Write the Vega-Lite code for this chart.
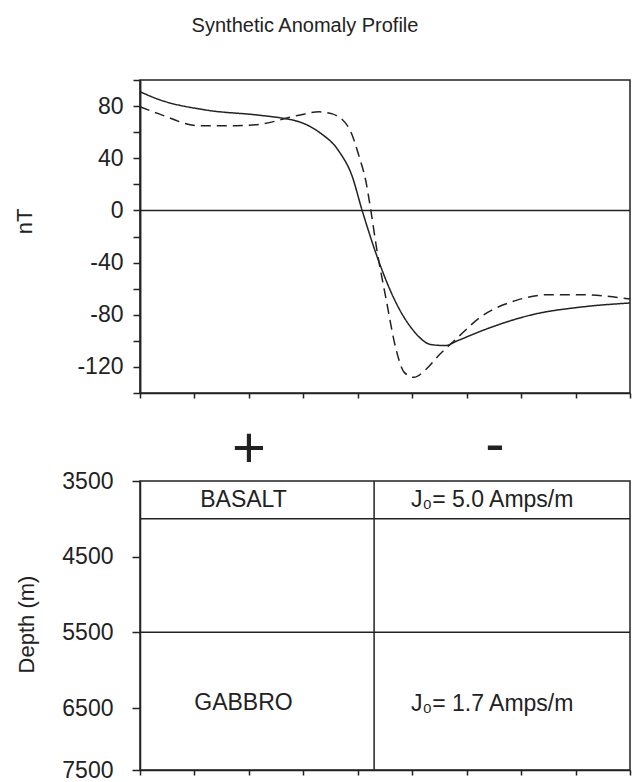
{
  "$schema": "https://vega.github.io/schema/vega-lite/v6.json",
  "title": {"text": "Synthetic Anomaly Profile", "fontSize": 20, "font": "Liberation Sans", "fontWeight": "normal", "anchor": "middle", "dx": -18, "offset": 43, "color": "#222"},
  "padding": {"left": 12, "top": 15, "right": 5, "bottom": 3},
  "background": "white",
  "bounds": "flush",
  "spacing": 88,
  "config": {
    "font": "Liberation Sans",
    "view": {"stroke": "#222", "strokeWidth": 1.5},
    "axis": {"grid": false, "labelOverlap": false, "domainColor": "#222", "domainWidth": 1.5, "tickColor": "#222", "tickWidth": 1.5, "labelFont": "Liberation Sans", "labelColor": "#222", "titleFont": "Liberation Sans", "titleColor": "#222", "titleFontWeight": "normal"}
  },
  "vconcat": [
    {
      "width": 490,
      "height": 313,
      "resolve": {"axis": {"y": "independent"}},
      "data": {"values": [
        {"x": 0.0, "nT": 91, "model": "solid"},
        {"x": 0.35, "nT": 85, "model": "solid"},
        {"x": 1.21, "nT": 77, "model": "solid"},
        {"x": 2.19, "nT": 73, "model": "solid"},
        {"x": 2.65, "nT": 70.5, "model": "solid"},
        {"x": 2.92, "nT": 68, "model": "solid"},
        {"x": 3.29, "nT": 60, "model": "solid"},
        {"x": 3.66, "nT": 45, "model": "solid"},
        {"x": 3.89, "nT": 27, "model": "solid"},
        {"x": 4.08, "nT": 0, "model": "solid"},
        {"x": 4.39, "nT": -39.5, "model": "solid"},
        {"x": 4.70, "nT": -70.6, "model": "solid"},
        {"x": 5.0, "nT": -91, "model": "solid"},
        {"x": 5.36, "nT": -103, "model": "solid"},
        {"x": 5.62, "nT": -103.6, "model": "solid"},
        {"x": 5.80, "nT": -100.5, "model": "solid"},
        {"x": 6.36, "nT": -91, "model": "solid"},
        {"x": 7.20, "nT": -80, "model": "solid"},
        {"x": 8.12, "nT": -74, "model": "solid"},
        {"x": 9.0, "nT": -71, "model": "solid"},
        {"x": 0.0, "nT": 79.5, "model": "dashed"},
        {"x": 0.35, "nT": 74, "model": "dashed"},
        {"x": 1.08, "nT": 65, "model": "dashed"},
        {"x": 1.76, "nT": 65, "model": "dashed"},
        {"x": 2.19, "nT": 66, "model": "dashed"},
        {"x": 2.92, "nT": 73, "model": "dashed"},
        {"x": 3.29, "nT": 75.6, "model": "dashed"},
        {"x": 3.53, "nT": 74, "model": "dashed"},
        {"x": 3.84, "nT": 63, "model": "dashed"},
        {"x": 4.02, "nT": 42, "model": "dashed"},
        {"x": 4.15, "nT": 22, "model": "dashed"},
        {"x": 4.24, "nT": 0, "model": "dashed"},
        {"x": 4.35, "nT": -30, "model": "dashed"},
        {"x": 4.52, "nT": -68, "model": "dashed"},
        {"x": 4.70, "nT": -106, "model": "dashed"},
        {"x": 4.85, "nT": -124, "model": "dashed"},
        {"x": 5.03, "nT": -128, "model": "dashed"},
        {"x": 5.25, "nT": -122, "model": "dashed"},
        {"x": 5.49, "nT": -111, "model": "dashed"},
        {"x": 5.77, "nT": -100, "model": "dashed"},
        {"x": 6.28, "nT": -81, "model": "dashed"},
        {"x": 6.91, "nT": -69, "model": "dashed"},
        {"x": 7.51, "nT": -64.6, "model": "dashed"},
        {"x": 8.12, "nT": -64.6, "model": "dashed"},
        {"x": 9.0, "nT": -68, "model": "dashed"}
      ]},
      "layer": [
        {
          "mark": {"type": "line", "interpolate": "monotone", "color": "#222", "strokeWidth": 1.5},
          "encoding": {
            "x": {"field": "x", "type": "quantitative", "scale": {"domain": [0, 9], "nice": false, "zero": false},
                  "axis": {"values": [0, 1, 2, 3, 4, 5, 6, 7, 8, 9], "labels": false, "tickSize": 5, "title": null}},
            "y": {"field": "nT", "type": "quantitative", "scale": {"domain": [-140, 100], "nice": false, "zero": false},
                  "axis": {"orient": "left", "values": [-120, -80, -40, 0, 40, 80], "format": "d",
                           "labelExpr": "replace(datum.label, '\u2212', '-')",
                           "labelOverlap": false,
                           "labelFontSize": 23, "tickSize": 7, "labelPadding": 10,
                           "title": "nT", "titleFontSize": 22, "titleX": -116, "titleY": 141, "titleAngle": -90, "titleBaseline": "middle", "titleAlign": "center"}},
            "strokeDash": {"field": "model", "type": "nominal", "scale": {"domain": ["solid", "dashed"], "range": [[1, 0], [10, 6]]}, "legend": null}
          }
        },
        {
          "data": {"values": [{"nT": 0}]},
          "mark": {"type": "rule", "color": "#222", "strokeWidth": 1.5},
          "encoding": {"y": {"field": "nT", "type": "quantitative", "scale": {"domain": [-140, 100], "nice": false, "zero": false},
                             "axis": {"orient": "left", "values": [-140, -100, -60, -20, 20, 60, 100], "labels": false, "tickSize": 7, "title": null}}}
        }
      ]
    },
    {
      "width": 490,
      "height": 289,
      "layer": [
        {
          "data": {"values": [{"depth": 4000}, {"depth": 5500}]},
          "mark": {"type": "rule", "color": "#222", "strokeWidth": 1.5},
          "encoding": {
            "y": {"field": "depth", "type": "quantitative", "scale": {"domain": [3500, 6500, 7500], "range": [0, 227, 289], "nice": false, "zero": false},
                  "axis": {"values": [3500, 3750, 4000, 4250, 4500, 4750, 5000, 5250, 5500, 5750, 6000, 6250, 6500, 6750, 7000, 7250, 7500],
                           "labelExpr": "(datum.value - 3500) % 1000 == 0 ? '' + datum.value : ''",
                           "labelOverlap": false,
                           "labelFontSize": 23, "tickSize": 8, "labelPadding": 19,
                           "title": "Depth (m)", "titleFontSize": 22, "titleX": -114, "titleY": 143, "titleAngle": -90, "titleBaseline": "middle", "titleAlign": "center"}}
          }
        },
        {
          "data": {"values": [{"x": 4.3}]},
          "mark": {"type": "rule", "color": "#222", "strokeWidth": 1.5},
          "encoding": {
            "x": {"field": "x", "type": "quantitative", "scale": {"domain": [0, 9], "nice": false, "zero": false},
                  "axis": {"values": [0, 1, 2, 3, 4, 5, 6, 7, 8, 9], "labels": false, "tickSize": 5, "title": null}}
          }
        },
        {
          "data": {"values": [
            {"x": 1.9, "depth": 3750, "label": "BASALT"},
            {"x": 1.9, "depth": 6430, "label": "GABBRO"},
            {"x": 6.47, "depth": 3750, "label": "J₀= 5.0 Amps/m"},
            {"x": 6.47, "depth": 6450, "label": "J₀= 1.7 Amps/m"}
          ]},
          "mark": {"type": "text", "fontSize": 23, "color": "#222", "baseline": "middle", "align": "center"},
          "encoding": {
            "x": {"field": "x", "type": "quantitative", "scale": {"domain": [0, 9], "nice": false, "zero": false}},
            "y": {"field": "depth", "type": "quantitative", "scale": {"domain": [3500, 6500, 7500], "range": [0, 227, 289], "nice": false, "zero": false}},
            "text": {"field": "label"}
          }
        },
        {
          "data": {"values": [
            {"x": 2.0, "depth": 3090, "label": "+"},
            {"x": 6.52, "depth": 3040, "label": "-"}
          ]},
          "mark": {"type": "text", "fontSize": 58, "color": "#222", "baseline": "middle", "align": "center"},
          "encoding": {
            "x": {"field": "x", "type": "quantitative", "scale": {"domain": [0, 9], "nice": false, "zero": false}},
            "y": {"field": "depth", "type": "quantitative", "scale": {"domain": [3500, 6500, 7500], "range": [0, 227, 289], "nice": false, "zero": false}},
            "text": {"field": "label"}
          }
        }
      ]
    }
  ]
}
